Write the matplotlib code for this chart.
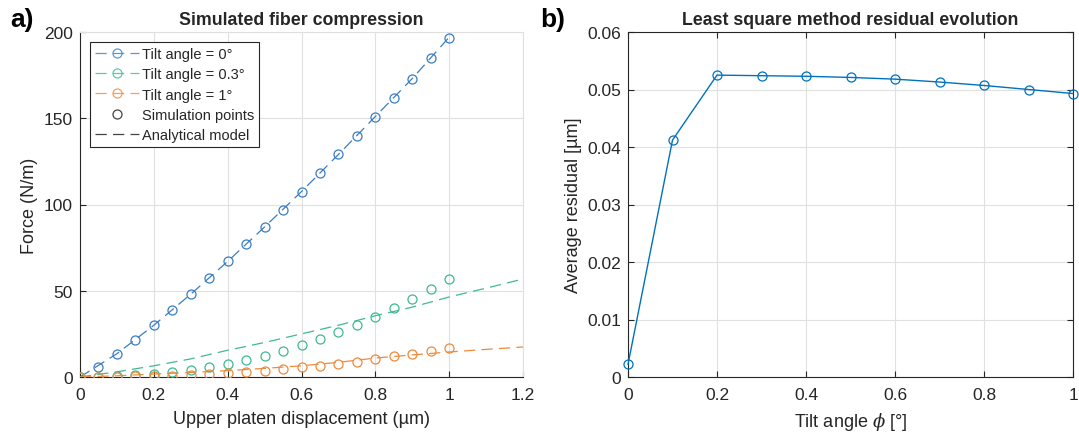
import numpy as np
import matplotlib
matplotlib.use("Agg")
import matplotlib.pyplot as plt
from matplotlib.ticker import FuncFormatter

plt.rcParams.update({
    "font.family": ["Liberation Sans", "DejaVu Sans"],
    "font.size": 12,
    "text.color": "#262626",
    "axes.labelcolor": "#262626",
    "xtick.color": "#262626",
    "ytick.color": "#262626",
    "xtick.direction": "in",
    "ytick.direction": "in",
    "mathtext.fontset": "dejavuserif",
})

# simulation points (displacement in um, force in N/m)
disp_sim = [0, 0.05, 0.1, 0.15, 0.2, 0.25, 0.3, 0.35, 0.4, 0.45, 0.5,
            0.55, 0.6, 0.65, 0.7, 0.75, 0.8, 0.85, 0.9, 0.95, 1.0]
force_sim_0 = [0, 6, 13.5, 21.5, 30, 39, 48, 57.5, 67, 77, 87,
               97, 107.5, 118, 129, 140, 151, 162, 173, 185, 196.5]
force_sim_03 = [0, 0.1, 0.4, 0.9, 1.7, 2.7, 4.1, 5.6, 7.5, 9.9, 12.4,
                15.3, 18.5, 22, 25.9, 30.1, 35, 39.8, 45.2, 50.8, 56.8]
force_sim_1 = [0, 0.05, 0.1, 0.3, 0.5, 0.8, 1.2, 1.7, 2.3, 2.9, 3.7,
               4.4, 5.6, 6.6, 7.7, 8.9, 10.4, 12, 13.3, 15, 16.8]

# analytical model
disp_ana_0 = [0, 0.1, 0.2, 0.3, 0.4, 0.5, 0.6, 0.7, 0.8, 0.9, 1.0]
force_ana_0 = [0, 13.5, 30, 48, 67, 87, 107.5, 129, 151, 173, 197]
disp_ana = [0, 0.1, 0.2, 0.3, 0.4, 0.5, 0.6, 0.7, 0.8, 0.9, 1.0, 1.1, 1.2]
force_ana_03 = [0, 3, 6.5, 10.5, 15.5, 20, 25, 30, 35.5, 40.5, 46.4, 51.5, 56.8]
force_ana_1 = [0, 0.7, 1.7, 2.6, 3.7, 5, 6.5, 8.5, 11, 12.8, 14.5, 16, 17.4]

# residual evolution
tilt = [0, 0.1, 0.2, 0.3, 0.4, 0.5, 0.6, 0.7, 0.8, 0.9, 1.0]
residual = [0.0022, 0.0412, 0.0525, 0.0524, 0.0523, 0.0521,
            0.0518, 0.0513, 0.0507, 0.0500, 0.0493]

c_blue = "#3b7dc4"
c_green = "#3fb992"
c_orange = "#ee8a3c"
grid_c = "#e0e0e0"
ms = 6.5
dash = (9, 5)


def fmt(v, pos):
    s = ("%.2f" % v).rstrip("0").rstrip(".")
    return s


fig = plt.figure(figsize=(10.79, 4.35), dpi=100)
ax1 = fig.add_axes([80 / 1079, 1 - 378 / 435, 443 / 1079, 345 / 435])
ax2 = fig.add_axes([628 / 1079, 1 - 378 / 435, 445 / 1079, 345 / 435])

# ---- panel a
for f_sim, xa, f_ana, c in [(force_sim_0, disp_ana_0, force_ana_0, c_blue),
                            (force_sim_03, disp_ana, force_ana_03, c_green),
                            (force_sim_1, disp_ana, force_ana_1, c_orange)]:
    ax1.plot(xa, f_ana, color=c, lw=0.9, dashes=dash, zorder=3)
    ax1.plot(disp_sim, f_sim, ls="none", marker="o", mfc="none", mec=c,
             ms=ms, mew=0.9, zorder=4)

h = []
for c, lab in [(c_blue, "Tilt angle = 0°"), (c_green, "Tilt angle = 0.3°"),
               (c_orange, "Tilt angle = 1°")]:
    h.append(plt.Line2D([], [], color=c, lw=0.9, dashes=dash, marker="o",
                        mfc="none", mec=c, ms=ms, mew=0.9, alpha=0.8, label=lab))
h.append(plt.Line2D([], [], ls="none", marker="o", mfc="none", mec="#444444",
                    ms=ms, mew=0.9, label="Simulation points"))
h.append(plt.Line2D([], [], color="#444444", lw=0.9, dashes=dash,
                    label="Analytical model"))
leg = ax1.legend(handles=h, loc="upper left", fontsize=10.5, fancybox=False,
                 framealpha=1, edgecolor="#262626", borderpad=0.35,
                 labelspacing=0.42, handlelength=3.0, handletextpad=0.2,
                 borderaxespad=0.7)
leg.get_frame().set_linewidth(0.8)

ax1.set_xlim(0, 1.2)
ax1.set_ylim(0, 200)
ax1.set_xticks([0, 0.2, 0.4, 0.6, 0.8, 1.0, 1.2])
ax1.set_yticks([0, 50, 100, 150, 200])
ax1.xaxis.set_major_formatter(FuncFormatter(fmt))
ax1.set_xlabel("Upper platen displacement (µm)", fontsize=13, labelpad=6)
ax1.set_ylabel("Force (N/m)", fontsize=13)
ax1.set_title("Simulated fiber compression", fontsize=12.8, fontweight="bold", pad=6)
ax1.grid(True, color=grid_c, lw=0.8)
ax1.set_axisbelow(True)
for s in ["top", "right"]:
    ax1.spines[s].set_color(grid_c)
for s in ["left", "bottom"]:
    ax1.spines[s].set_color("#262626")
    ax1.spines[s].set_linewidth(0.8)
ax1.tick_params(length=4, width=0.8, labelsize=12.5, pad=7)
ax1.tick_params(axis="y", pad=5)

# ---- panel b
ax2.plot(tilt, residual, color="#0072BD", lw=1, marker="o", mfc="none",
         mec="#0072BD", ms=ms, mew=0.9, zorder=3, clip_on=False)
ax2.set_xlim(0, 1)
ax2.set_ylim(0, 0.06)
ax2.set_xticks([0, 0.2, 0.4, 0.6, 0.8, 1.0])
ax2.set_yticks([0, 0.01, 0.02, 0.03, 0.04, 0.05, 0.06])
ax2.xaxis.set_major_formatter(FuncFormatter(fmt))
ax2.yaxis.set_major_formatter(FuncFormatter(fmt))
ax2.set_xlabel(r"Tilt angle $\phi$ [°]", fontsize=13, labelpad=6)
ax2.set_ylabel("Average residual [µm]", fontsize=13)
ax2.set_title("Least square method residual evolution", fontsize=12.8,
              fontweight="bold", pad=6)
ax2.grid(True, color=grid_c, lw=0.8)
ax2.set_axisbelow(True)
for s in ax2.spines.values():
    s.set_color("#262626")
    s.set_linewidth(0.8)
ax2.tick_params(length=4, width=0.8, labelsize=12.5, pad=7, top=True, right=True)
ax2.tick_params(axis="y", pad=5)

fig.text(10 / 1079, 1 - 20 / 435, "a)", fontsize=19, fontweight="bold",
         va="center", ha="left", color="black")
fig.text(540 / 1079, 1 - 20 / 435, "b)", fontsize=19, fontweight="bold",
         va="center", ha="left", color="black")

fig.savefig("out.png", dpi=100)
